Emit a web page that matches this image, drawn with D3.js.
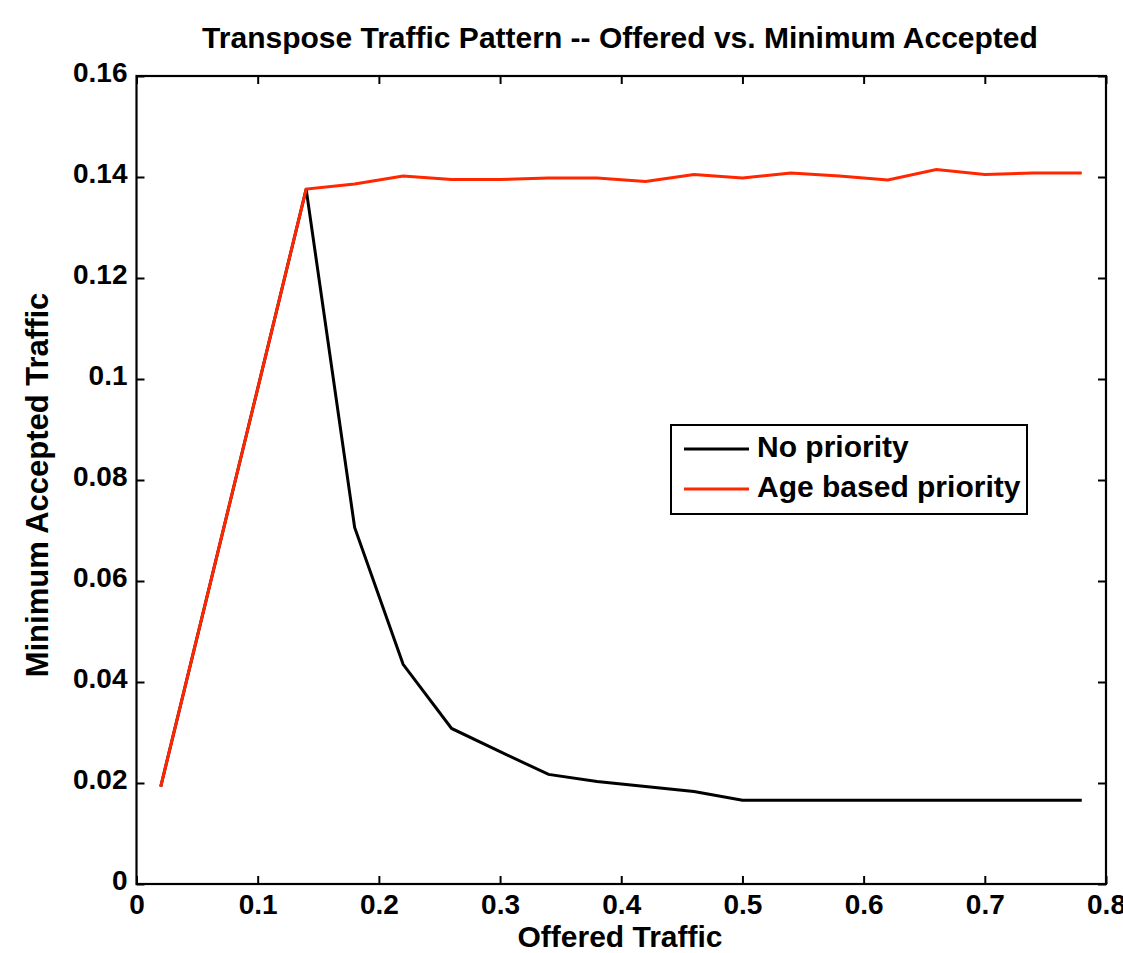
<!DOCTYPE html>
<html>
<head>
<meta charset="utf-8">
<script src="https://cdn.jsdelivr.net/npm/d3@7"></script>
<style>
  html, body { margin: 0; padding: 0; background: #fff; }
  svg { display: block; }
  text { font-family: "Liberation Sans", Arial, Helvetica, sans-serif; font-weight: bold; fill: #000; }
</style>
</head>
<body>
<svg id="chart" width="1123" height="953"></svg>
<script>
const offered = [0.02, 0.06, 0.10, 0.14, 0.18, 0.22, 0.26, 0.30, 0.34, 0.38, 0.42, 0.46, 0.50, 0.54, 0.58, 0.62, 0.66, 0.70, 0.74, 0.78];
const noPriority = [0.0193, 0.0587, 0.0981, 0.1376, 0.0706, 0.0435, 0.0308, 0.0262, 0.0217, 0.0203, 0.0193, 0.0183, 0.0166, 0.0166, 0.0166, 0.0166, 0.0166, 0.0166, 0.0166, 0.0166];
const ageBased = [0.0193, 0.0587, 0.0981, 0.1376, 0.1386, 0.1402, 0.1395, 0.1395, 0.1398, 0.1398, 0.1391, 0.1405, 0.1398, 0.1408, 0.1402, 0.1394, 0.1415, 0.1405, 0.1408, 0.1408];
const xTicks = [0, 0.1, 0.2, 0.3, 0.4, 0.5, 0.6, 0.7, 0.8];
const xTickLabels = ["0", "0.1", "0.2", "0.3", "0.4", "0.5", "0.6", "0.7", "0.8"];
const yTicks = [0, 0.02, 0.04, 0.06, 0.08, 0.1, 0.12, 0.14, 0.16];
const yTickLabels = ["0", "0.02", "0.04", "0.06", "0.08", "0.1", "0.12", "0.14", "0.16"];
const seriesNames = ["No priority", "Age based priority"];
const seriesColors = ["#000000", "#ff2600"];

const svg = d3.select("#chart");
const L = 136.5, R = 1106, T = 76, B = 884;
const x = d3.scaleLinear().domain([0, 0.8]).range([L, R]);
const y = d3.scaleLinear().domain([0, 0.16]).range([B, T]);
const tickLen = 8;
const tickFs = 28;
const fs = 30;

// frame
svg.append("rect").attr("x", L).attr("y", T).attr("width", R - L).attr("height", B - T)
  .attr("fill", "none").attr("stroke", "#000").attr("stroke-width", 2.2);

// axes (inward ticks)
const xAxisB = d3.axisBottom(x).tickValues(xTicks).tickSize(-tickLen).tickPadding(10)
  .tickFormat((d, i) => xTickLabels[i]);
const gxb = svg.append("g").attr("transform", `translate(0,${B})`).call(xAxisB);
const xAxisT = d3.axisTop(x).tickValues(xTicks).tickSize(-tickLen).tickFormat("");
const gxt = svg.append("g").attr("transform", `translate(0,${T})`).call(xAxisT);
const yAxisL = d3.axisLeft(y).tickValues(yTicks).tickSize(-tickLen).tickPadding(9)
  .tickFormat((d, i) => yTickLabels[i]);
const gyl = svg.append("g").attr("transform", `translate(${L},0)`).call(yAxisL);
const yAxisR = d3.axisRight(y).tickValues(yTicks).tickSize(-tickLen).tickFormat("");
const gyr = svg.append("g").attr("transform", `translate(${R},0)`).call(yAxisR);

[gxb, gxt, gyl, gyr].forEach(g => {
  g.select(".domain").remove();
  g.selectAll(".tick line").attr("stroke", "#000").attr("stroke-width", 2);
  g.selectAll(".tick text").attr("font-size", tickFs).attr("font-family", null).attr("fill", "#000");
});
gxb.selectAll(".tick text").attr("dy", "0.71em");
gyl.selectAll(".tick text").attr("dy", "0.2em");

// lines
const series = [noPriority, ageBased];
const line = d3.line().x((d, i) => x(offered[i])).y(d => y(d));
series.forEach((s, k) => {
  svg.append("path").datum(s).attr("d", line).attr("fill", "none")
    .attr("stroke", seriesColors[k]).attr("stroke-width", 3).attr("stroke-linejoin", "miter");
});

// title and labels
svg.append("text").attr("x", 620).attr("y", 48).attr("text-anchor", "middle")
  .attr("font-size", fs).text("Transpose Traffic Pattern -- Offered vs. Minimum Accepted");
svg.append("text").attr("x", 620).attr("y", 947).attr("text-anchor", "middle")
  .attr("font-size", fs).text("Offered Traffic");
svg.append("text").attr("transform", `translate(48,485) rotate(-90)`)
  .attr("text-anchor", "middle").attr("font-size", 31).text("Minimum Accepted Traffic");

// legend
const lg = svg.append("g");
lg.append("rect").attr("x", 671).attr("y", 425).attr("width", 356).attr("height", 89)
  .attr("fill", "#fff").attr("stroke", "#000").attr("stroke-width", 2);
seriesNames.forEach((n, k) => {
  const yy = 449 + k * 40;
  lg.append("line").attr("x1", 684).attr("x2", 749).attr("y1", yy).attr("y2", yy)
    .attr("stroke", seriesColors[k]).attr("stroke-width", 3);
  lg.append("text").attr("x", 757).attr("y", yy).attr("dy", "0.25em")
    .attr("font-size", fs).text(n);
});
</script>
</body>
</html>
